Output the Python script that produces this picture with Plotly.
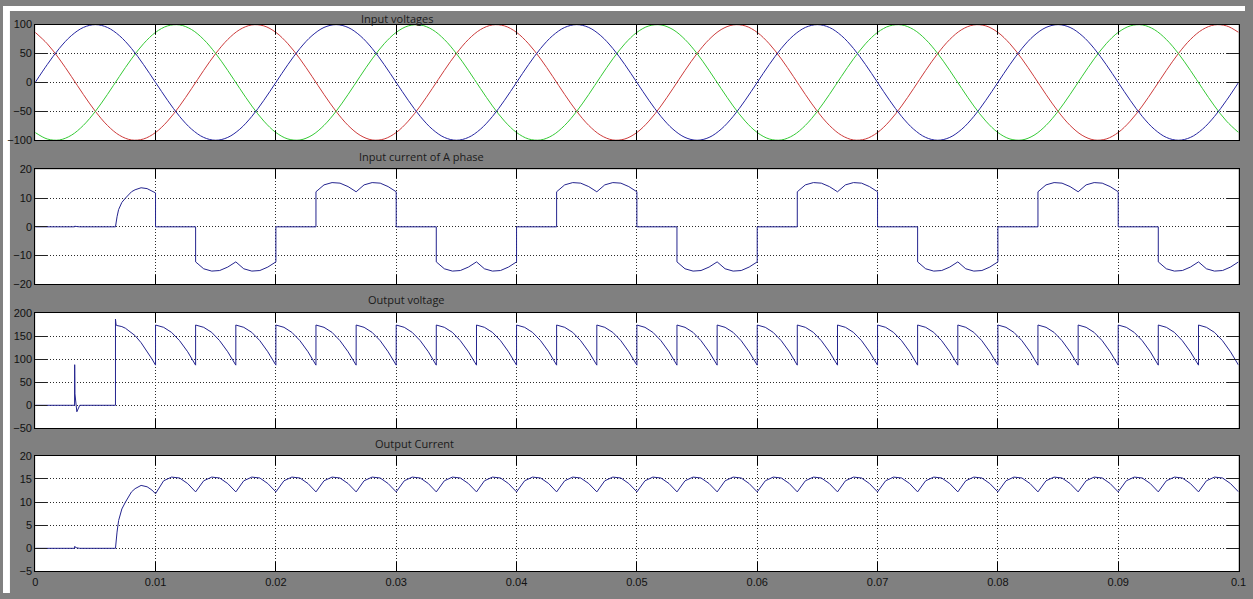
import plotly.graph_objects as go

W, H = 1253, 599

# ---------------- data ----------------
# Input voltages, sampled every 1 ms (time in ms)
t_v_ms = list(range(0, 101))
v_blue = [
    0, 30.9, 58.8, 80.9, 95.1, 100, 95.1, 80.9, 58.8, 30.9, 0, -30.9, -58.8, -80.9, -95.1, -100, -95.1, -80.9, -58.8, -30.9,
    0, 30.9, 58.8, 80.9, 95.1, 100, 95.1, 80.9, 58.8, 30.9, 0, -30.9, -58.8, -80.9, -95.1, -100, -95.1, -80.9, -58.8, -30.9,
    0, 30.9, 58.8, 80.9, 95.1, 100, 95.1, 80.9, 58.8, 30.9, 0, -30.9, -58.8, -80.9, -95.1, -100, -95.1, -80.9, -58.8, -30.9,
    0, 30.9, 58.8, 80.9, 95.1, 100, 95.1, 80.9, 58.8, 30.9, 0, -30.9, -58.8, -80.9, -95.1, -100, -95.1, -80.9, -58.8, -30.9,
    0, 30.9, 58.8, 80.9, 95.1, 100, 95.1, 80.9, 58.8, 30.9, 0, -30.9, -58.8, -80.9, -95.1, -100, -95.1, -80.9, -58.8, -30.9,
    0,
]
v_red = [
    86.6, 66.9, 40.7, 10.5, -20.8, -50, -74.3, -91.4, -99.5, -97.8, -86.6, -66.9, -40.7, -10.5, 20.8, 50, 74.3, 91.4, 99.5, 97.8,
    86.6, 66.9, 40.7, 10.5, -20.8, -50, -74.3, -91.4, -99.5, -97.8, -86.6, -66.9, -40.7, -10.5, 20.8, 50, 74.3, 91.4, 99.5, 97.8,
    86.6, 66.9, 40.7, 10.5, -20.8, -50, -74.3, -91.4, -99.5, -97.8, -86.6, -66.9, -40.7, -10.5, 20.8, 50, 74.3, 91.4, 99.5, 97.8,
    86.6, 66.9, 40.7, 10.5, -20.8, -50, -74.3, -91.4, -99.5, -97.8, -86.6, -66.9, -40.7, -10.5, 20.8, 50, 74.3, 91.4, 99.5, 97.8,
    86.6, 66.9, 40.7, 10.5, -20.8, -50, -74.3, -91.4, -99.5, -97.8, -86.6, -66.9, -40.7, -10.5, 20.8, 50, 74.3, 91.4, 99.5, 97.8,
    86.6,
]
v_green = [
    -86.6, -97.8, -99.5, -91.4, -74.3, -50, -20.8, 10.5, 40.7, 66.9, 86.6, 97.8, 99.5, 91.4, 74.3, 50, 20.8, -10.5, -40.7, -66.9,
    -86.6, -97.8, -99.5, -91.4, -74.3, -50, -20.8, 10.5, 40.7, 66.9, 86.6, 97.8, 99.5, 91.4, 74.3, 50, 20.8, -10.5, -40.7, -66.9,
    -86.6, -97.8, -99.5, -91.4, -74.3, -50, -20.8, 10.5, 40.7, 66.9, 86.6, 97.8, 99.5, 91.4, 74.3, 50, 20.8, -10.5, -40.7, -66.9,
    -86.6, -97.8, -99.5, -91.4, -74.3, -50, -20.8, 10.5, 40.7, 66.9, 86.6, 97.8, 99.5, 91.4, 74.3, 50, 20.8, -10.5, -40.7, -66.9,
    -86.6, -97.8, -99.5, -91.4, -74.3, -50, -20.8, 10.5, 40.7, 66.9, 86.6, 97.8, 99.5, 91.4, 74.3, 50, 20.8, -10.5, -40.7, -66.9,
    -86.6,
]

# Rectifier waveforms share one time base (ms); repeated times are vertical steps
t_ms = [
    0, 3.27, 3.28, 3.30, 3.46, 3.7, 6.67, 6.67, 6.72, 6.8, 6.93, 7.2, 7.5, 8.0, 8.3, 8.8, 9.3, 9.7,
    10, 10, 10.67, 11.33, 12, 12.67, 13.33, 13.33, 14, 14.67, 15.33, 16, 16.67, 16.67, 17.33, 18, 18.67, 19.33,
    20, 20, 20.67, 21.33, 22, 22.67, 23.33, 23.33, 24, 24.67, 25.33, 26, 26.67, 26.67, 27.33, 28, 28.67, 29.33,
    30, 30, 30.67, 31.33, 32, 32.67, 33.33, 33.33, 34, 34.67, 35.33, 36, 36.67, 36.67, 37.33, 38, 38.67, 39.33,
    40, 40, 40.67, 41.33, 42, 42.67, 43.33, 43.33, 44, 44.67, 45.33, 46, 46.67, 46.67, 47.33, 48, 48.67, 49.33,
    50, 50, 50.67, 51.33, 52, 52.67, 53.33, 53.33, 54, 54.67, 55.33, 56, 56.67, 56.67, 57.33, 58, 58.67, 59.33,
    60, 60, 60.67, 61.33, 62, 62.67, 63.33, 63.33, 64, 64.67, 65.33, 66, 66.67, 66.67, 67.33, 68, 68.67, 69.33,
    70, 70, 70.67, 71.33, 72, 72.67, 73.33, 73.33, 74, 74.67, 75.33, 76, 76.67, 76.67, 77.33, 78, 78.67, 79.33,
    80, 80, 80.67, 81.33, 82, 82.67, 83.33, 83.33, 84, 84.67, 85.33, 86, 86.67, 86.67, 87.33, 88, 88.67, 89.33,
    90, 90, 90.67, 91.33, 92, 92.67, 93.33, 93.33, 94, 94.67, 95.33, 96, 96.67, 96.67, 97.33, 98, 98.67, 99.33,
    100,
]
i_a = [
    0, 0, 0.3, 0.2, 0.1, 0, 0, 0, 1.8, 3.5, 6, 8.5, 10, 12.2, 12.9, 13.6, 13.3, 12.6,
    11.8, 0, 0, 0, 0, 0, 0, -12.2, -14.6, -15.4, -15.2, -14.0, -12.2, -12.2, -14.6, -15.4, -15.2, -14.0,
    -12.2, 0, 0, 0, 0, 0, 0, 12.2, 14.6, 15.4, 15.2, 14.0, 12.2, 12.2, 14.6, 15.4, 15.2, 14.0,
    12.2, 0, 0, 0, 0, 0, 0, -12.2, -14.6, -15.4, -15.2, -14.0, -12.2, -12.2, -14.6, -15.4, -15.2, -14.0,
    -12.2, 0, 0, 0, 0, 0, 0, 12.2, 14.6, 15.4, 15.2, 14.0, 12.2, 12.2, 14.6, 15.4, 15.2, 14.0,
    12.2, 0, 0, 0, 0, 0, 0, -12.2, -14.6, -15.4, -15.2, -14.0, -12.2, -12.2, -14.6, -15.4, -15.2, -14.0,
    -12.2, 0, 0, 0, 0, 0, 0, 12.2, 14.6, 15.4, 15.2, 14.0, 12.2, 12.2, 14.6, 15.4, 15.2, 14.0,
    12.2, 0, 0, 0, 0, 0, 0, -12.2, -14.6, -15.4, -15.2, -14.0, -12.2, -12.2, -14.6, -15.4, -15.2, -14.0,
    -12.2, 0, 0, 0, 0, 0, 0, 12.2, 14.6, 15.4, 15.2, 14.0, 12.2, 12.2, 14.6, 15.4, 15.2, 14.0,
    12.2, 0, 0, 0, 0, 0, 0, -12.2, -14.6, -15.4, -15.2, -14.0, -12.2, -12.2, -14.6, -15.4, -15.2, -14.0,
    -12.2,
]
v_out = [
    0, 0, 88, 25, -14, 0, 0, 187, 174, 172.9, 172.4, 170.6, 167, 158, 151, 135.7, 117, 100.5,
    87, 174, 169, 158, 140, 116, 87, 174, 169, 158, 140, 116, 87, 174, 169, 158, 140, 116,
    87, 174, 169, 158, 140, 116, 87, 174, 169, 158, 140, 116, 87, 174, 169, 158, 140, 116,
    87, 174, 169, 158, 140, 116, 87, 174, 169, 158, 140, 116, 87, 174, 169, 158, 140, 116,
    87, 174, 169, 158, 140, 116, 87, 174, 169, 158, 140, 116, 87, 174, 169, 158, 140, 116,
    87, 174, 169, 158, 140, 116, 87, 174, 169, 158, 140, 116, 87, 174, 169, 158, 140, 116,
    87, 174, 169, 158, 140, 116, 87, 174, 169, 158, 140, 116, 87, 174, 169, 158, 140, 116,
    87, 174, 169, 158, 140, 116, 87, 174, 169, 158, 140, 116, 87, 174, 169, 158, 140, 116,
    87, 174, 169, 158, 140, 116, 87, 174, 169, 158, 140, 116, 87, 174, 169, 158, 140, 116,
    87, 174, 169, 158, 140, 116, 87, 174, 169, 158, 140, 116, 87, 174, 169, 158, 140, 116,
    87,
]
i_out = [
    0, 0, 0.4, 0.3, 0.1, 0, 0, 0, 1.8, 3.5, 6, 8.5, 10, 12.2, 12.9, 13.6, 13.3, 12.6,
    11.8, 11.8, 14.6, 15.4, 15.2, 14.0, 12.2, 12.2, 14.6, 15.4, 15.2, 14.0, 12.2, 12.2, 14.6, 15.4, 15.2, 14.0,
    12.2, 12.2, 14.6, 15.4, 15.2, 14.0, 12.2, 12.2, 14.6, 15.4, 15.2, 14.0, 12.2, 12.2, 14.6, 15.4, 15.2, 14.0,
    12.2, 12.2, 14.6, 15.4, 15.2, 14.0, 12.2, 12.2, 14.6, 15.4, 15.2, 14.0, 12.2, 12.2, 14.6, 15.4, 15.2, 14.0,
    12.2, 12.2, 14.6, 15.4, 15.2, 14.0, 12.2, 12.2, 14.6, 15.4, 15.2, 14.0, 12.2, 12.2, 14.6, 15.4, 15.2, 14.0,
    12.2, 12.2, 14.6, 15.4, 15.2, 14.0, 12.2, 12.2, 14.6, 15.4, 15.2, 14.0, 12.2, 12.2, 14.6, 15.4, 15.2, 14.0,
    12.2, 12.2, 14.6, 15.4, 15.2, 14.0, 12.2, 12.2, 14.6, 15.4, 15.2, 14.0, 12.2, 12.2, 14.6, 15.4, 15.2, 14.0,
    12.2, 12.2, 14.6, 15.4, 15.2, 14.0, 12.2, 12.2, 14.6, 15.4, 15.2, 14.0, 12.2, 12.2, 14.6, 15.4, 15.2, 14.0,
    12.2, 12.2, 14.6, 15.4, 15.2, 14.0, 12.2, 12.2, 14.6, 15.4, 15.2, 14.0, 12.2, 12.2, 14.6, 15.4, 15.2, 14.0,
    12.2, 12.2, 14.6, 15.4, 15.2, 14.0, 12.2, 12.2, 14.6, 15.4, 15.2, 14.0, 12.2, 12.2, 14.6, 15.4, 15.2, 14.0,
    12.2,
]

x_ticks = [0, 0.01, 0.02, 0.03, 0.04, 0.05, 0.06, 0.07, 0.08, 0.09, 0.1]
x_tick_text = ["0", "0.01", "0.02", "0.03", "0.04", "0.05", "0.06", "0.07", "0.08", "0.09", "0.1"]
y_ticks = [
    [-100, -50, 0, 50, 100],
    [-20, -10, 0, 10, 20],
    [-50, 0, 50, 100, 150, 200],
    [-5, 0, 5, 10, 15, 20],
]
y_ranges = [[-100, 100], [-20, 20], [-50, 200], [-5, 20]]
titles = ["Input voltages", "Input current of A phase", "Output voltage", "Output Current"]

# ---------------- layout geometry (pixels of the 1253x599 reference) ----------------
plot_left, plot_right = 32.5, 1246.5
plot_rows = [(19, 137), (166.7, 284), (313.3, 431), (459, 577)]
title_pos = [(397, 12.5), (422, 153.5), (407.5, 299.5), (415, 446)]

BG = "#808080"
LINE = "#24248e"
GRID = "#2a2a2a"


def fx(p):
    return p / W


def fy(p):
    return 1 - p / H


t_v = [v / 1000 for v in t_v_ms]
t_r = [v / 1000 for v in t_ms]

fig = go.Figure()
fig.add_trace(go.Scatter(x=t_v, y=v_red, mode="lines", line=dict(color="#cc3b3b", width=1, shape="spline"),
                         xaxis="x", yaxis="y", hoverinfo="skip"))
fig.add_trace(go.Scatter(x=t_v, y=v_green, mode="lines", line=dict(color="#35c935", width=1, shape="spline"),
                         xaxis="x", yaxis="y", hoverinfo="skip"))
fig.add_trace(go.Scatter(x=t_v, y=v_blue, mode="lines", line=dict(color="#2525a0", width=1, shape="spline"),
                         xaxis="x", yaxis="y", hoverinfo="skip"))
fig.add_trace(go.Scatter(x=t_r, y=i_a, mode="lines", line=dict(color=LINE, width=1),
                         xaxis="x2", yaxis="y2", hoverinfo="skip"))
fig.add_trace(go.Scatter(x=t_r, y=v_out, mode="lines", line=dict(color=LINE, width=1),
                         xaxis="x3", yaxis="y3", hoverinfo="skip"))
fig.add_trace(go.Scatter(x=t_r, y=i_out, mode="lines", line=dict(color=LINE, width=1),
                         xaxis="x4", yaxis="y4", hoverinfo="skip"))

tick_font = dict(family="Liberation Sans, Arial, sans-serif", size=11, color="#111111")
layout = dict(
    autosize=True,
    margin=dict(l=0, r=0, t=0, b=0, pad=0),
    paper_bgcolor=BG, plot_bgcolor="white",
    showlegend=False,
    font=tick_font,
)

for i in range(4):
    sfx = "" if i == 0 else str(i + 1)
    top, bot = plot_rows[i]
    layout["xaxis" + sfx] = dict(
        domain=[fx(plot_left), fx(plot_right)], anchor="y" + sfx, range=[0, 0.1],
        tickvals=x_ticks, ticktext=x_tick_text, showticklabels=(i == 3),
        ticklabeloverflow="allow",
        ticks="inside", ticklen=9, tickwidth=1, tickcolor="black",
        showline=True, linecolor="black", linewidth=1, mirror="ticks",
        showgrid=True, gridcolor=GRID, gridwidth=1, griddash="1px,2px",
        zeroline=False, fixedrange=True, tickfont=tick_font,
    )
    layout["yaxis" + sfx] = dict(
        domain=[fy(bot), fy(top)], anchor="x" + sfx, range=y_ranges[i],
        tickvals=y_ticks[i], ticks="inside", ticklen=12, tickwidth=1, tickcolor="#222222",
        ticklabeloverflow="allow",
        showline=True, linecolor="black", linewidth=1, mirror="ticks",
        showgrid=True, gridcolor=GRID, gridwidth=1, griddash="1px,2px",
        zeroline=False, fixedrange=True, tickfont=tick_font,
    )

annotations = []
for txt, (cx, cy) in zip(titles, title_pos):
    annotations.append(dict(
        text=txt, x=fx(cx), y=fy(cy), xref="paper", yref="paper",
        xanchor="center", yanchor="middle", showarrow=False,
        font=dict(family="Open Sans, Noto Sans, sans-serif", size=11, color="#1a1a1a"),
    ))
layout["annotations"] = annotations

# white strips on the top and left edges of the window
layout["shapes"] = [
    dict(type="rect", xref="paper", yref="paper", x0=0, x1=fx(7), y0=0, y1=1,
         fillcolor="white", line=dict(width=0), layer="below"),
    dict(type="rect", xref="paper", yref="paper", x0=0, x1=1, y0=fy(5), y1=1,
         fillcolor="white", line=dict(width=0), layer="below"),
]

fig.update_layout(**layout)

fig.write_html(
    "out.html",
    default_width="100vw",
    default_height="100vh",
    config={"displayModeBar": False, "staticPlot": True, "responsive": True},
    post_script=(
        "document.body.style.margin='0';"
        "document.body.style.overflow='hidden';"
        "document.body.style.background='#808080';"
    ),
)
